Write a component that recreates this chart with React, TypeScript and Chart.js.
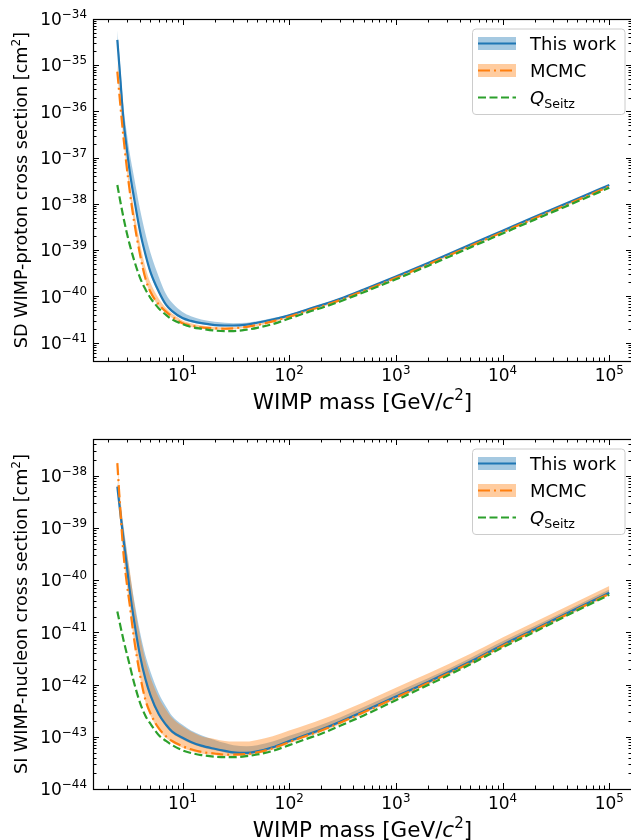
import React, { useEffect, useRef } from 'react';
import { Chart, registerables } from 'chart.js';

Chart.register(...registerables);

const FONT = '"DejaVu Sans", "Liberation Sans", sans-serif';
const BLUE = '#1f77b4';
const ORANGE = '#ff7f0e';
const GREEN = '#2ca02c';
const BLUE_BAND = 'rgba(31,119,180,0.4)';
const ORANGE_BAND = 'rgba(255,127,14,0.4)';

// WIMP mass grid [GeV/c^2]
const massGeV = [2.45, 2.6, 2.8, 3.0, 3.2, 3.5, 4.0, 4.5, 5, 6, 7, 8, 10, 12, 15, 20, 25, 30, 40, 50, 70, 100, 150, 200, 300, 500, 1000, 2000, 5000, 10000, 20000, 50000, 100000];

// log10 of cross sections [cm^2]
// --- SD WIMP-proton (top panel)
const sdThisWork = [-34.45, -35.23, -36.2, -36.8, -37.3, -37.85, -38.6, -39.1, -39.47, -39.9, -40.18, -40.32, -40.47, -40.53, -40.58, -40.62, -40.63, -40.63, -40.61, -40.57, -40.5, -40.41, -40.28, -40.19, -40.05, -39.85, -39.57, -39.28, -38.88, -38.58, -38.28, -37.89, -37.59];
const sdThisWorkUpper = [-34.25, -34.98, -35.9, -36.45, -36.9, -37.4, -38.12, -38.65, -39.05, -39.58, -39.95, -40.14, -40.34, -40.43, -40.5, -40.55, -40.57, -40.58, -40.57, -40.54, -40.47, -40.39, -40.26, -40.17, -40.04, -39.84, -39.56, -39.27, -38.87, -38.57, -38.27, -37.88, -37.58];
const sdThisWorkLower = [-34.48, -35.27, -36.24, -36.84, -37.34, -37.9, -38.65, -39.15, -39.52, -39.94, -40.21, -40.35, -40.5, -40.56, -40.6, -40.64, -40.65, -40.65, -40.63, -40.59, -40.52, -40.43, -40.3, -40.21, -40.07, -39.87, -39.59, -39.3, -38.9, -38.6, -38.3, -37.91, -37.61];
const sdMcmc = [-35.14, -35.8, -36.57, -37.2, -37.72, -38.35, -39.1, -39.62, -39.9, -40.18, -40.33, -40.44, -40.58, -40.63, -40.67, -40.69, -40.7, -40.69, -40.66, -40.62, -40.54, -40.44, -40.31, -40.22, -40.08, -39.88, -39.6, -39.31, -38.91, -38.61, -38.31, -37.92, -37.62];
const sdMcmcUpper = [-34.95, -35.55, -36.4, -37.0, -37.5, -38.1, -38.85, -39.38, -39.7, -40.05, -40.25, -40.37, -40.52, -40.58, -40.63, -40.66, -40.67, -40.67, -40.64, -40.6, -40.52, -40.43, -40.3, -40.21, -40.07, -39.87, -39.59, -39.3, -38.9, -38.6, -38.3, -37.91, -37.61];
const sdMcmcLower = [-35.17, -35.84, -36.62, -37.25, -37.77, -38.4, -39.15, -39.66, -39.93, -40.21, -40.36, -40.47, -40.61, -40.66, -40.7, -40.72, -40.72, -40.71, -40.68, -40.64, -40.56, -40.46, -40.33, -40.24, -40.1, -39.9, -39.62, -39.33, -38.93, -38.63, -38.33, -37.94, -37.64];
const sdSeitz = [-37.59, -37.92, -38.3, -38.62, -38.88, -39.2, -39.6, -39.85, -40.03, -40.26, -40.4, -40.5, -40.6, -40.66, -40.7, -40.74, -40.75, -40.75, -40.72, -40.68, -40.6, -40.48, -40.34, -40.25, -40.11, -39.91, -39.63, -39.34, -38.94, -38.64, -38.34, -37.95, -37.65];

// --- SI WIMP-nucleon (bottom panel)
const siThisWork = [-38.21, -38.68, -39.23, -39.72, -40.2, -40.75, -41.45, -41.9, -42.2, -42.57, -42.77, -42.9, -43.02, -43.1, -43.17, -43.23, -43.27, -43.3, -43.31, -43.28, -43.2, -43.08, -42.95, -42.86, -42.71, -42.51, -42.23, -41.95, -41.56, -41.24, -40.94, -40.54, -40.24];
const siThisWorkUpper = [-38.11, -38.5, -38.97, -39.42, -39.85, -40.35, -41.0, -41.45, -41.75, -42.17, -42.42, -42.6, -42.77, -42.88, -42.97, -43.06, -43.12, -43.16, -43.18, -43.16, -43.09, -42.98, -42.86, -42.77, -42.63, -42.43, -42.15, -41.88, -41.49, -41.17, -40.88, -40.48, -40.18];
const siThisWorkLower = [-38.24, -38.72, -39.27, -39.76, -40.24, -40.79, -41.49, -41.94, -42.24, -42.6, -42.8, -42.93, -43.05, -43.13, -43.2, -43.26, -43.3, -43.33, -43.34, -43.31, -43.23, -43.11, -42.98, -42.89, -42.74, -42.54, -42.26, -41.98, -41.59, -41.27, -40.97, -40.57, -40.27];
const siMcmc = [-37.76, -38.59, -39.5, -40.05, -40.47, -41.1, -41.82, -42.3, -42.55, -42.84, -42.99, -43.08, -43.18, -43.24, -43.29, -43.32, -43.34, -43.34, -43.33, -43.3, -43.22, -43.1, -42.97, -42.88, -42.73, -42.53, -42.25, -41.97, -41.58, -41.26, -40.96, -40.56, -40.26];
const siMcmcUpper = [-37.7, -38.35, -39.0, -39.45, -39.8, -40.4, -41.08, -41.55, -41.86, -42.25, -42.48, -42.64, -42.8, -42.9, -42.99, -43.04, -43.08, -43.09, -43.09, -43.06, -42.99, -42.88, -42.76, -42.67, -42.53, -42.34, -42.06, -41.79, -41.41, -41.1, -40.8, -40.41, -40.11];
const siMcmcLower = [-37.79, -38.63, -39.55, -40.09, -40.51, -41.14, -41.86, -42.34, -42.59, -42.87, -43.02, -43.11, -43.21, -43.27, -43.32, -43.35, -43.37, -43.37, -43.36, -43.33, -43.25, -43.13, -43.0, -42.91, -42.76, -42.56, -42.28, -42.0, -41.61, -41.29, -40.99, -40.59, -40.29];
const siSeitz = [-40.6, -40.85, -41.15, -41.4, -41.63, -41.95, -42.35, -42.6, -42.75, -42.97, -43.08, -43.16, -43.26, -43.31, -43.35, -43.38, -43.39, -43.39, -43.37, -43.34, -43.27, -43.16, -43.03, -42.94, -42.79, -42.59, -42.3, -42.01, -41.61, -41.29, -40.99, -40.58, -40.28];

// tick labels (powers of ten)
const xTickExponents = [1, 2, 3, 4, 5];
const sdTickExponents = [-41, -40, -39, -38, -37, -36, -35, -34];
const siTickExponents = [-44, -43, -42, -41, -40, -39, -38];

const seriesNames = ['This work', 'MCMC', 'Q', 'Seitz'];
const sdAxisTitle = 'SD WIMP-proton cross section [cm';
const siAxisTitle = 'SI WIMP-nucleon cross section [cm';
const xAxisTitle = 'WIMP mass [GeV/';

const X_MIN = 1.449;
const X_MAX = 163300;

type Seg = { t: string; italic?: boolean; pos?: 'sup' | 'sub' };

function segFont(seg: Seg, size: number) {
  const s = seg.pos ? size * 0.7 : size;
  return `${seg.italic ? 'italic ' : ''}${s}px ${FONT}`;
}
function richWidth(ctx: CanvasRenderingContext2D, segs: Seg[], size: number) {
  let w = 0;
  for (const s of segs) {
    ctx.font = segFont(s, size);
    w += ctx.measureText(s.t).width;
  }
  return w;
}
function drawRich(ctx: CanvasRenderingContext2D, segs: Seg[], x: number, baseline: number, size: number, align: 'left' | 'center' | 'right') {
  const w = richWidth(ctx, segs, size);
  let cx = align === 'right' ? x - w : align === 'center' ? x - w / 2 : x;
  ctx.textAlign = 'left';
  ctx.textBaseline = 'alphabetic';
  for (const s of segs) {
    ctx.font = segFont(s, size);
    const dy = s.pos === 'sup' ? -size * 0.42 : s.pos === 'sub' ? size * 0.22 : 0;
    ctx.fillText(s.t, cx, baseline + dy);
    cx += ctx.measureText(s.t).width;
  }
}

interface Panel {
  yMin: number;
  yMax: number;
  yTicks: number[];
  yTitle: string;
  pad: { left: number; top: number; right: number; bottom: number };
  thisWork: number[];
  thisWorkUpper: number[];
  thisWorkLower: number[];
  mcmc: number[];
  mcmcUpper: number[];
  mcmcLower: number[];
  seitz: number[];
}

const sdPanel: Panel = {
  yMin: 4.07e-42,
  yMax: 1e-34,
  yTicks: sdTickExponents,
  yTitle: sdAxisTitle,
  pad: { left: 93, top: 19, right: 8, bottom: 59 },
  thisWork: sdThisWork,
  thisWorkUpper: sdThisWorkUpper,
  thisWorkLower: sdThisWorkLower,
  mcmc: sdMcmc,
  mcmcUpper: sdMcmcUpper,
  mcmcLower: sdMcmcLower,
  seitz: sdSeitz,
};

const siPanel: Panel = {
  yMin: 1e-44,
  yMax: 5.05e-38,
  yTicks: siTickExponents,
  yTitle: siAxisTitle,
  pad: { left: 93, top: 19, right: 8, bottom: 51 },
  thisWork: siThisWork,
  thisWorkUpper: siThisWorkUpper,
  thisWorkLower: siThisWorkLower,
  mcmc: siMcmc,
  mcmcUpper: siMcmcUpper,
  mcmcLower: siMcmcLower,
  seitz: siSeitz,
};

const toPoints = (logs: number[]) => massGeV.map((m, i) => ({ x: m, y: Math.pow(10, logs[i]) }));

const DASHDOT = [12, 4, 2, 4];
const DASHED = [8, 3.5];

function decoPlugin(panel: Panel) {
  return {
    id: 'deco',
    afterDraw(chart: any) {
      const ctx: CanvasRenderingContext2D = chart.ctx;
      const { left, right, top, bottom } = chart.chartArea;
      const xs = chart.scales.x;
      const ys = chart.scales.y;
      ctx.save();
      ctx.strokeStyle = '#000';
      ctx.fillStyle = '#000';
      ctx.lineWidth = 1;
      ctx.setLineDash([]);

      // ticks (inward, all sides)
      ctx.beginPath();
      for (let d = Math.floor(Math.log10(xs.min)); d <= Math.ceil(Math.log10(xs.max)); d++) {
        for (let k = 1; k <= 9; k++) {
          const v = k * Math.pow(10, d);
          if (v < xs.min || v > xs.max) continue;
          const px = Math.round(xs.getPixelForValue(v)) + 0.5;
          const len = k === 1 ? 6 : 3.5;
          ctx.moveTo(px, bottom);
          ctx.lineTo(px, bottom - len);
          ctx.moveTo(px, top);
          ctx.lineTo(px, top + len);
        }
      }
      for (let d = Math.floor(Math.log10(ys.min)); d <= Math.ceil(Math.log10(ys.max)); d++) {
        for (let k = 1; k <= 9; k++) {
          const v = k * Math.pow(10, d);
          if (v < ys.min * 0.9999 || v > ys.max * 1.0001) continue;
          const py = Math.round(ys.getPixelForValue(v)) + 0.5;
          const len = k === 1 ? 6 : 3.5;
          ctx.moveTo(left, py);
          ctx.lineTo(left + len, py);
          ctx.moveTo(right, py);
          ctx.lineTo(right - len, py);
        }
      }
      ctx.stroke();

      // spines
      ctx.lineWidth = 1.2;
      ctx.strokeRect(Math.round(left) + 0.5, Math.round(top) + 0.5, Math.round(right - left), Math.round(bottom - top));

      // x tick labels
      const TICK = 17;
      for (const e of xTickExponents) {
        const px = xs.getPixelForValue(Math.pow(10, e));
        drawRich(ctx, [{ t: '10' }, { t: String(e), pos: 'sup' }], px, bottom + 20, TICK, 'center');
      }
      // y tick labels
      for (const e of panel.yTicks) {
        const py = ys.getPixelForValue(Math.pow(10, e));
        const ex = e < 0 ? '\u2212' + String(-e) : String(e);
        drawRich(ctx, [{ t: '10' }, { t: ex, pos: 'sup' }], left - 6, py + 0.365 * TICK, TICK, 'right');
      }

      // x axis title
      drawRich(
        ctx,
        [{ t: xAxisTitle }, { t: 'c', italic: true }, { t: '2', pos: 'sup' }, { t: ']' }],
        (left + right) / 2,
        bottom + 48,
        21.5,
        'center'
      );
      // y axis title
      ctx.save();
      ctx.translate(27, (top + bottom) / 2);
      ctx.rotate(-Math.PI / 2);
      drawRich(ctx, [{ t: panel.yTitle }, { t: '2', pos: 'sup' }, { t: ']' }], 0, 0, 17.6, 'center');
      ctx.restore();

      // legend
      const bx = 472;
      const by = top + 9.5;
      const bw = 152.5;
      const bh = 85.5;
      ctx.beginPath();
      (ctx as any).roundRect(bx + 0.5, by + 0.5, bw, bh, 3.5);
      ctx.fillStyle = 'rgba(255,255,255,0.8)';
      ctx.fill();
      ctx.strokeStyle = '#cccccc';
      ctx.lineWidth = 1;
      ctx.stroke();

      const rows = [top + 24.5, top + 51.5, top + 78.5];
      const hx0 = 478;
      const hx1 = 516;
      const LEG = 18;
      // This work
      ctx.fillStyle = BLUE_BAND;
      ctx.fillRect(hx0, rows[0] - 6.5, hx1 - hx0, 13);
      ctx.strokeStyle = BLUE;
      ctx.lineWidth = 2.2;
      ctx.setLineDash([]);
      ctx.beginPath();
      ctx.moveTo(hx0, rows[0]);
      ctx.lineTo(hx1, rows[0]);
      ctx.stroke();
      // MCMC
      ctx.fillStyle = ORANGE_BAND;
      ctx.fillRect(hx0, rows[1] - 6.5, hx1 - hx0, 13);
      ctx.strokeStyle = ORANGE;
      ctx.setLineDash(DASHDOT);
      ctx.beginPath();
      ctx.moveTo(hx0, rows[1]);
      ctx.lineTo(hx1, rows[1]);
      ctx.stroke();
      // Seitz
      ctx.strokeStyle = GREEN;
      ctx.setLineDash(DASHED);
      ctx.beginPath();
      ctx.moveTo(hx0, rows[2]);
      ctx.lineTo(hx1, rows[2]);
      ctx.stroke();
      ctx.setLineDash([]);

      ctx.fillStyle = '#000';
      drawRich(ctx, [{ t: seriesNames[0] }], 530, rows[0] + 0.365 * LEG, LEG, 'left');
      drawRich(ctx, [{ t: seriesNames[1] }], 530, rows[1] + 0.365 * LEG, LEG, 'left');
      drawRich(ctx, [{ t: seriesNames[2], italic: true }, { t: seriesNames[3], pos: 'sub' }], 530, rows[2] + 0.365 * LEG, LEG, 'left');

      ctx.restore();
    },
  };
}

function makeConfig(panel: Panel): any {
  const common = { pointRadius: 0, pointHoverRadius: 0, cubicInterpolationMode: 'monotone' };
  // Datasets are painted from the last index to the first, so the bands come last here
  // (painted first, underneath) and the green line comes first (painted on top).
  return {
    type: 'line',
    data: {
      datasets: [
        { ...common, label: seriesNames[2] + seriesNames[3], data: toPoints(panel.seitz), borderColor: GREEN, borderWidth: 2.2, borderDash: DASHED, fill: false },
        { ...common, label: seriesNames[1], data: toPoints(panel.mcmc), borderColor: ORANGE, borderWidth: 2.2, borderDash: DASHDOT, fill: false },
        { ...common, label: seriesNames[0], data: toPoints(panel.thisWork), borderColor: BLUE, borderWidth: 2.2, fill: false },
        { ...common, label: 'mc-up', data: toPoints(panel.mcmcUpper), borderWidth: 0, borderColor: 'transparent', fill: false },
        { ...common, label: 'mc-lo', data: toPoints(panel.mcmcLower), borderWidth: 0, borderColor: 'transparent', backgroundColor: ORANGE_BAND, fill: '-1' },
        { ...common, label: 'tw-up', data: toPoints(panel.thisWorkUpper), borderWidth: 0, borderColor: 'transparent', fill: false },
        { ...common, label: 'tw-lo', data: toPoints(panel.thisWorkLower), borderWidth: 0, borderColor: 'transparent', backgroundColor: BLUE_BAND, fill: '-1' },
      ],
    },
    options: {
      responsive: false,
      animation: false,
      devicePixelRatio: 1,
      events: [],
      layout: { padding: panel.pad },
      plugins: { legend: { display: false }, tooltip: { enabled: false }, filler: { drawTime: 'beforeDatasetDraw' } },
      scales: {
        x: { type: 'logarithmic', min: X_MIN, max: X_MAX, display: false },
        y: { type: 'logarithmic', min: panel.yMin, max: panel.yMax, display: false },
      },
    },
    plugins: [decoPlugin(panel)],
  };
}

export default function App() {
  const topRef = useRef<HTMLCanvasElement>(null);
  const botRef = useRef<HTMLCanvasElement>(null);
  useEffect(() => {
    const charts = [
      new Chart(topRef.current as HTMLCanvasElement, makeConfig(sdPanel)),
      new Chart(botRef.current as HTMLCanvasElement, makeConfig(siPanel)),
    ];
    return () => charts.forEach((c) => c.destroy());
  }, []);
  return (
    <div style={{ position: 'absolute', left: 0, top: 0, width: 631, height: 840, overflow: 'hidden', background: '#fff' }}>
      <canvas ref={topRef} width={640} height={420} style={{ position: 'absolute', left: 0, top: 0 }} />
      <canvas ref={botRef} width={640} height={420} style={{ position: 'absolute', left: 0, top: 420 }} />
    </div>
  );
}
